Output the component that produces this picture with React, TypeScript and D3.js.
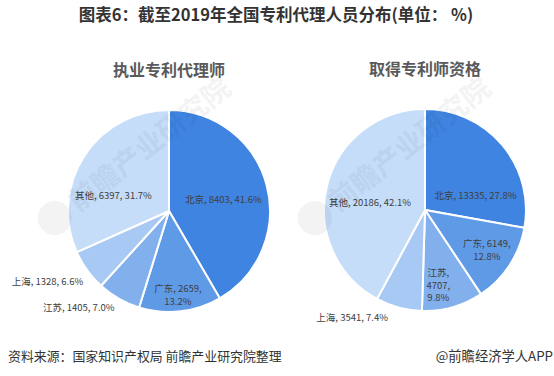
import React from "react";
import * as d3 from "d3";

const categories = ["北京", "广东", "江苏", "上海", "其他"];
const agentValues = [8403, 2659, 1405, 1328, 6397];
const agentPercents = ["41.6%", "13.2%", "7.0%", "6.6%", "31.7%"];
const qualifiedValues = [13335, 6149, 4707, 3541, 20186];
const qualifiedPercents = ["27.8%", "12.8%", "9.8%", "7.4%", "42.1%"];
const sliceColors = ["#3F84E1", "#5F9AE7", "#82B0EC", "#A7C9F3", "#C6DDF9"];

const W = 554;
const H = 376;
const FONT = "'Noto Sans CJK SC', 'Noto Sans', sans-serif";

// label placement: angle (deg from top, clockwise) and radius fraction, and line breaks
const agentLabelPos = [
  { a: 78, f: 0.55, lines: (c: string, v: number, p: string) => [`${c}, ${v}, ${p}`] },
  { a: 174, f: 0.84, lines: (c: string, v: number, p: string) => [`${c}, ${v},`, p] },
  { a: 223, f: 1.31, lines: (c: string, v: number, p: string) => [`${c}, ${v}, ${p}`] },
  { a: 240, f: 1.39, lines: (c: string, v: number, p: string) => [`${c}, ${v}, ${p}`] },
  { a: 285, f: 0.57, lines: (c: string, v: number, p: string) => [`${c}, ${v}, ${p}`] },
];
const qualifiedLabelPos = [
  { a: 74, f: 0.52, lines: (c: string, v: number, p: string) => [`${c}, ${v}, ${p}`] },
  { a: 123, f: 0.73, lines: (c: string, v: number, p: string) => [`${c}, ${v},`, p] },
  { a: 170, f: 0.76, lines: (c: string, v: number, p: string) => [`${c},`, `${v},`, p] },
  { a: 214, f: 1.29, lines: (c: string, v: number, p: string) => [`${c}, ${v}, ${p}`] },
  { a: 278, f: 0.55, lines: (c: string, v: number, p: string) => [`${c}, ${v}, ${p}`] },
];

function Pie({ cx, cy, r, title, values, percents, labelPos }: any) {
  const pie = d3.pie<number>().sort(null).value((d) => d);
  const arcs = pie(values);
  const arc = d3.arc<d3.PieArcDatum<number>>().innerRadius(0).outerRadius(r);
  return (
    <g>
      <text x={cx} y={cy - 135} textAnchor="middle" fontFamily={FONT} fontWeight="bold" fontSize={16} fill="#595959">
        {title}
      </text>
      <g transform={`translate(${cx},${cy})`}>
        {arcs.map((d, i) => (
          <path key={i} d={arc(d) || ""} fill={sliceColors[i]} stroke="#fff" strokeWidth={2} />
        ))}
        {arcs.map((d, i) => {
          const lp = labelPos[i];
          const ang = (lp.a * Math.PI) / 180;
          const x = Math.sin(ang) * r * lp.f;
          const y = -Math.cos(ang) * r * lp.f;
          const lines: string[] = lp.lines(categories[i], values[i], percents[i]);
          const lh = 12.5;
          const y0 = y - ((lines.length - 1) * lh) / 2;
          return (
            <text key={i} textAnchor="middle" fontFamily={FONT} fontSize={9.5} fill="#404040">
              {lines.map((l, j) => (
                <tspan key={j} x={x} y={y0 + j * lh} dy="0.35em">
                  {l}
                </tspan>
              ))}
            </text>
          );
        })}
      </g>
    </g>
  );
}

function Watermark({ x, y }: { x: number; y: number }) {
  return (
    <g transform={`translate(${x},${y}) rotate(-38)`} opacity={0.045}>
      <circle cx={-70} cy={0} r={17} fill="#000" />
      <text x={-48} y={10} fontFamily={FONT} fontWeight="bold" fontSize={28} fill="#000">
        前瞻产业研究院
      </text>
    </g>
  );
}

export default function App() {
  return (
    <svg width={W} height={H} style={{ position: "absolute", left: 0, top: 0, background: "#fff" }}>
      <rect width={W} height={H} fill="#fff" />
      <text x={276} y={21} textAnchor="middle" fontFamily={FONT} fontWeight="bold" fontSize={16.5} fill="#333">
        图表6：截至2019年全国专利代理人员分布(单位： %)
      </text>
      <Pie cx={169} cy={211} r={101} title="执业专利代理师" values={agentValues} percents={agentPercents} labelPos={agentLabelPos} />
      <Pie cx={425} cy={210} r={101} title="取得专利师资格" values={qualifiedValues} percents={qualifiedPercents} labelPos={qualifiedLabelPos} />
      <Watermark x={110} y={175} />
      <Watermark x={370} y={175} />
      <text x={8} y={361} fontFamily={FONT} fontSize={12.9} fill="#333">
        资料来源：国家知识产权局 前瞻产业研究院整理
      </text>
      <text x={553} y={361} textAnchor="end" fontFamily={FONT} fontSize={13.3} fill="#333">
        @前瞻经济学人APP
      </text>
    </svg>
  );
}
